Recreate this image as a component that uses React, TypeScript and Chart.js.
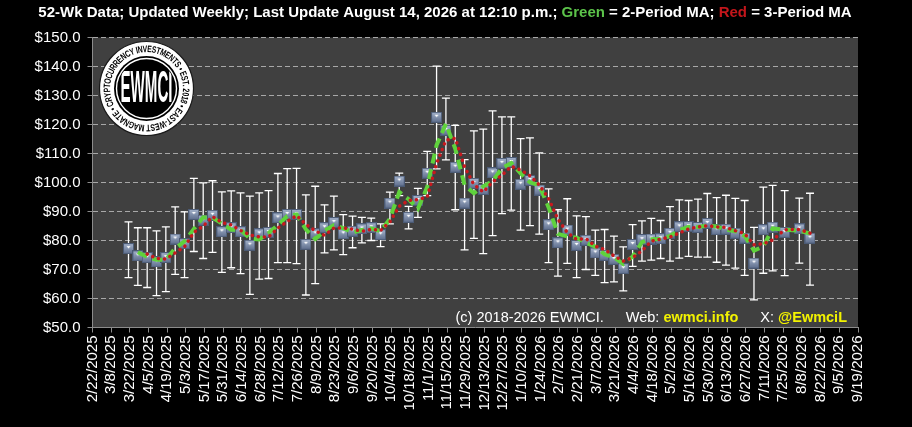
import { useEffect, useRef } from 'react';
import { Chart, registerables } from 'chart.js';

Chart.register(...registerables);

// ---- axis range / ticks ----
const AXIS_START = '2/22/2025';
const AXIS_END = '9/19/2026';
const X_STEP_DAYS = 14;
const Y_MIN = 50;
const Y_MAX = 150;
const Y_STEP = 10;

// ---- weekly observation dates ----
const dates = [
  '3/21/2025', '3/28/2025', '4/4/2025', '4/11/2025', '4/18/2025', '4/25/2025', '5/2/2025', '5/9/2025',
  '5/16/2025', '5/23/2025', '5/30/2025', '6/6/2025', '6/13/2025', '6/20/2025', '6/27/2025', '7/4/2025',
  '7/11/2025', '7/18/2025', '7/25/2025', '8/1/2025', '8/8/2025', '8/15/2025', '8/22/2025', '8/29/2025',
  '9/5/2025', '9/12/2025', '9/19/2025', '9/26/2025', '10/3/2025', '10/10/2025', '10/17/2025', '10/24/2025',
  '10/31/2025', '11/7/2025', '11/14/2025', '11/21/2025', '11/28/2025', '12/5/2025', '12/12/2025', '12/19/2025',
  '12/26/2025', '1/2/2026', '1/9/2026', '1/16/2026', '1/23/2026', '1/30/2026', '2/6/2026', '2/13/2026',
  '2/20/2026', '2/27/2026', '3/6/2026', '3/13/2026', '3/20/2026', '3/27/2026', '4/3/2026', '4/10/2026',
  '4/17/2026', '4/24/2026', '5/1/2026', '5/8/2026', '5/15/2026', '5/22/2026', '5/29/2026', '6/5/2026',
  '6/12/2026', '6/19/2026', '6/26/2026', '7/3/2026', '7/10/2026', '7/17/2026', '7/26/2026', '8/6/2026',
  '8/14/2026',
];

// ---- weekly value (marker) ----
const closeValues = [
  77.2, 74.7, 74.1, 72.6, 74.1, 80.5, 78.9, 89.0,
  87.0, 88.7, 83.0, 84.4, 83.0, 78.4, 82.3, 82.8,
  87.8, 89.0, 89.0, 78.7, 82.3, 84.4, 86.2, 82.3,
  83.2, 84.0, 84.4, 82.0, 92.9, 100.5, 88.0, 93.8,
  103.2, 122.5, 118.0, 105.3, 92.9, 99.7, 97.6, 103.3,
  106.6, 106.9, 99.4, 100.7, 97.4, 85.4, 79.2, 83.6,
  78.3, 80.1, 75.7, 74.9, 73.5, 70.3, 78.6, 80.3,
  80.5, 80.6, 82.5, 84.7, 84.8, 84.5, 85.9, 83.7,
  83.9, 82.5, 80.8, 72.2, 83.7, 84.6, 82.8, 84.0,
  80.8,
];

// ---- weekly high (upper whisker) ----
const highValues = [
  86.4, 84.4, 84.4, 83.3, 84.7, 91.6, 89.9, 101.4,
  99.9, 100.6, 96.8, 97.1, 96.4, 95.3, 96.4, 97.2,
  103.1, 104.8, 104.9, 95.7, 98.7, 92.3, 95.3, 88.9,
  88.4, 88.0, 87.7, 85.7, 96.7, 103.2, 91.8, 98.0,
  110.7, 140.1, 129.1, 119.7, 107.9, 117.8, 118.4, 124.7,
  122.6, 122.6, 115.1, 115.4, 110.2, 97.8, 90.6, 94.4,
  88.5, 88.2, 83.6, 83.8, 81.5, 77.8, 85.5, 86.8,
  87.6, 86.9, 91.7, 94.0, 93.8, 94.3, 96.2, 94.8,
  95.6, 94.5, 93.8, 84.5, 98.4, 99.0, 97.2, 94.6,
  96.3,
];

// ---- weekly low (lower whisker) ----
const lowValues = [
  67.2, 64.5, 63.8, 61.0, 62.4, 68.3, 67.2, 76.2,
  73.8, 75.9, 69.0, 70.6, 68.6, 61.4, 66.7, 66.9,
  72.4, 72.4, 72.0, 61.2, 65.1, 75.7, 76.8, 75.1,
  77.5, 79.2, 80.0, 77.9, 85.7, 95.5, 84.0, 88.0,
  95.5, 104.7, 107.8, 90.6, 76.8, 80.7, 75.5, 81.7,
  89.3, 90.5, 83.6, 85.1, 82.2, 72.4, 67.7, 72.1,
  67.2, 70.0, 68.0, 65.5, 65.7, 62.6, 71.1, 72.9,
  73.2, 73.8, 72.9, 73.9, 74.5, 74.3, 74.3, 72.5,
  71.5, 70.5, 68.0, 59.5, 68.7, 69.5, 67.9, 72.2,
  64.6,
];

const TITLE_PARTS: [string, string][] = [
  ['52-Wk Data; Updated Weekly; Last Update August 14, 2026 at 12:10 p.m.; ', '#ffffff'],
  ['Green', '#5cc34a'],
  [' = 2-Period MA; ', '#ffffff'],
  ['Red', '#c3161b'],
  [' = 3-Period MA', '#ffffff'],
];

const FOOTER_PARTS: [string, string, boolean][] = [
  ['(c) 2018-2026 EWMCI.', '#ffffff', false],
  ['Web: ', '#ffffff', false],
  ['ewmci.info', '#f2f200', true],
  ['X: ', '#ffffff', false],
  ['@EwmciL', '#f2f200', true],
];

const LOGO_RING_TEXT = 'CRYPTOCURRENCY INVESTMENTS \u2022 EST. 2018 \u2022 EAST-WEST MAGNATE \u2022 ';
const LOGO_CENTER_TEXT = 'EWMCI';

const DAY_MS = 86400000;
function parseMDY(s: string) {
  const [m, d, y] = s.split('/').map(Number);
  return Date.UTC(y, m - 1, d);
}
const BASE = parseMDY(AXIS_START);
const toDay = (s: string) => Math.round((parseMDY(s) - BASE) / DAY_MS);
const fmtDay = (day: number) => {
  const dt = new Date(BASE + Math.round(day) * DAY_MS);
  return `${dt.getUTCMonth() + 1}/${dt.getUTCDate()}/${dt.getUTCFullYear()}`;
};

function movingAverage(vals: number[], n: number) {
  return vals.map((_, i) => {
    if (i < n - 1) return null;
    let s = 0;
    for (let k = i - n + 1; k <= i; k++) s += vals[k];
    return s / n;
  });
}

function makeMarker() {
  const c = document.createElement('canvas');
  c.width = 11;
  c.height = 11;
  const g = c.getContext('2d')!;
  const grad = g.createLinearGradient(0, 0, 0, 11);
  grad.addColorStop(0, '#a7b5cd');
  grad.addColorStop(1, '#5b6b8a');
  g.fillStyle = grad;
  g.fillRect(0, 0, 11, 11);
  g.strokeStyle = '#4b5a74';
  g.lineWidth = 1;
  g.strokeRect(0.5, 0.5, 10, 10);
  g.fillStyle = '#ffffff';
  g.beginPath();
  g.moveTo(3.5, 3);
  g.lineTo(7.5, 3);
  g.lineTo(5.5, 5.5);
  g.closePath();
  g.fill();
  return c;
}

const FONT = '"Liberation Sans", Arial, sans-serif';

const plotBgPlugin = {
  id: 'plotBg',
  beforeDraw(chart: any) {
    const { ctx, chartArea: a } = chart;
    ctx.save();
    ctx.fillStyle = '#404040';
    ctx.fillRect(a.left, a.top, a.right - a.left, a.bottom - a.top);
    ctx.restore();
  },
};

const titlePlugin = {
  id: 'multiTitle',
  afterDraw(chart: any) {
    const { ctx } = chart;
    ctx.save();
    ctx.font = `bold 15px ${FONT}`;
    ctx.textBaseline = 'middle';
    const total = TITLE_PARTS.reduce((s, p) => s + ctx.measureText(p[0]).width, 0);
    let x = 445 - total / 2;
    for (const [t, col] of TITLE_PARTS) {
      ctx.fillStyle = col;
      ctx.textAlign = 'left';
      ctx.fillText(t, x, 13);
      x += ctx.measureText(t).width;
    }
    ctx.restore();
  },
};

const footerPlugin = {
  id: 'footer',
  afterDatasetsDraw(chart: any) {
    const { ctx, chartArea: a } = chart;
    ctx.save();
    ctx.textBaseline = 'alphabetic';
    ctx.textAlign = 'left';
    const gaps = [22, 0, 22, 0];
    const fontFor = (b: boolean) => `${b ? 'bold ' : ''}14.5px ${FONT}`;
    const widths = FOOTER_PARTS.map(([t, , b]) => {
      ctx.font = fontFor(b);
      return ctx.measureText(t).width;
    });
    const total = widths.reduce((s, w) => s + w, 0) + gaps.reduce((s, g) => s + g, 0);
    let x = a.right - 11 - total;
    FOOTER_PARTS.forEach(([t, col, b], i) => {
      ctx.font = fontFor(b);
      ctx.fillStyle = col;
      ctx.fillText(t, x, a.bottom - 6);
      x += widths[i] + (gaps[i] || 0);
    });
    ctx.restore();
  },
};

const logoPlugin = {
  id: 'logo',
  beforeDatasetsDraw(chart: any) {
    const { ctx, chartArea: a } = chart;
    const cx = a.left + 54;
    const cy = a.top + 51;
    const ringR = 39;
    ctx.save();
    ctx.beginPath();
    ctx.arc(cx, cy, 47, 0, Math.PI * 2);
    ctx.fillStyle = '#ffffff';
    ctx.fill();
    ctx.lineWidth = 1.2;
    ctx.strokeStyle = '#1a1a1a';
    ctx.stroke();
    // ring text
    ctx.font = `bold 9px ${FONT}`;
    ctx.fillStyle = '#000000';
    ctx.textAlign = 'center';
    ctx.textBaseline = 'middle';
    const chars = LOGO_RING_TEXT.split('');
    const ws = chars.map((ch) => ctx.measureText(ch).width);
    const tot = ws.reduce((s, w) => s + w, 0);
    const squeeze = Math.min(1, (2 * Math.PI * ringR) / tot);
    let ang = Math.PI * 0.85;
    for (let i = 0; i < chars.length; i++) {
      const da = (ws[i] / tot) * Math.PI * 2;
      const th = ang + da / 2;
      ctx.save();
      ctx.translate(cx + Math.cos(th) * ringR, cy + Math.sin(th) * ringR);
      ctx.rotate(th + Math.PI / 2);
      ctx.scale(squeeze, 1.05);
      ctx.fillText(chars[i], 0, 0);
      ctx.restore();
      ang += da;
    }
    // inner black disc
    ctx.beginPath();
    ctx.arc(cx, cy, 32.5, 0, Math.PI * 2);
    ctx.fillStyle = '#000000';
    ctx.fill();
    ctx.beginPath();
    ctx.arc(cx, cy, 30, 0, Math.PI * 2);
    ctx.strokeStyle = '#ffffff';
    ctx.lineWidth = 1.4;
    ctx.stroke();
    ctx.beginPath();
    ctx.arc(cx, cy, 28.5, 0, Math.PI * 2);
    ctx.clip();
    ctx.translate(cx, cy);
    ctx.font = `bold 20px ${FONT}`;
    const tw = ctx.measureText(LOGO_CENTER_TEXT).width;
    ctx.scale(52 / tw, 2.2);
    ctx.fillStyle = '#ffffff';
    ctx.textAlign = 'center';
    ctx.textBaseline = 'middle';
    ctx.fillText(LOGO_CENTER_TEXT, 0, 0.5);
    ctx.restore();
  },
};

const errorBarPlugin = {
  id: 'errorBars',
  beforeDatasetsDraw(chart: any) {
    const { ctx, chartArea: a, scales } = chart;
    const xs = scales.x;
    const ys = scales.y;
    ctx.save();
    ctx.beginPath();
    ctx.rect(a.left, a.top, a.right - a.left, a.bottom - a.top);
    ctx.clip();
    ctx.strokeStyle = '#ffffff';
    ctx.lineWidth = 1.3;
    dates.forEach((d, i) => {
      const x = xs.getPixelForValue(toDay(d));
      const yh = ys.getPixelForValue(highValues[i]);
      const yl = ys.getPixelForValue(lowValues[i]);
      ctx.beginPath();
      ctx.moveTo(x, yh);
      ctx.lineTo(x, yl);
      ctx.moveTo(x - 4, yh);
      ctx.lineTo(x + 4, yh);
      ctx.moveTo(x - 4, yl);
      ctx.lineTo(x + 4, yl);
      ctx.stroke();
    });
    ctx.restore();
  },
};

export default function App() {
  const ref = useRef<HTMLCanvasElement | null>(null);

  useEffect(() => {
    document.body.style.margin = '0';
    document.body.style.background = '#000000';
    const xs = dates.map(toDay);
    const ma2 = movingAverage(closeValues, 2);
    const ma3 = movingAverage(closeValues, 3);
    const marker = makeMarker();
    const chart = new Chart(ref.current!, {
      type: 'line',
      data: {
        datasets: [
          {
            label: 'Weekly',
            data: xs.map((x, i) => ({ x, y: closeValues[i] })),
            showLine: false,
            pointStyle: marker as any,
            pointRadius: 5,
            order: 3,
          },
          {
            label: '2-Period MA',
            data: xs.map((x, i) => ({ x, y: ma2[i] })) as any,
            borderColor: '#5fd23c',
            borderWidth: 4,
            borderDash: [10, 6],
            pointRadius: 0,
            tension: 0,
            order: 2,
          },
          {
            label: '3-Period MA',
            data: xs.map((x, i) => ({ x, y: ma3[i] })) as any,
            borderColor: '#c8191e',
            borderWidth: 3.5,
            borderDash: [0.1, 6],
            borderCapStyle: 'round',
            pointRadius: 0,
            tension: 0,
            order: 1,
          },
        ],
      },
      options: {
        responsive: false,
        animation: false,
        events: [],
        layout: { padding: { top: 37.5, right: 54, left: 0, bottom: 0 } },
        plugins: {
          legend: { display: false },
          title: { display: false },
          tooltip: { enabled: false },
        },
        scales: {
          x: {
            type: 'linear',
            min: 0,
            max: toDay(AXIS_END),
            afterFit: (s: any) => {
              s.height = 99.5;
            },
            ticks: {
              stepSize: X_STEP_DAYS,
              autoSkip: false,
              maxRotation: 90,
              minRotation: 90,
              color: '#ffffff',
              padding: 3,
              font: { family: FONT, size: 15 },
              callback: (v: any) => fmtDay(Number(v)),
            },
            grid: {
              drawOnChartArea: false,
              drawTicks: true,
              tickLength: 5,
              tickColor: '#8c8c8c',
            },
            border: { display: true, color: '#8c8c8c', width: 1 },
          },
          y: {
            type: 'linear',
            min: Y_MIN,
            max: Y_MAX,
            afterFit: (s: any) => {
              s.width = 92.5;
            },
            ticks: {
              stepSize: Y_STEP,
              color: '#ffffff',
              padding: 7,
              font: { family: FONT, size: 15 },
              callback: (v: any) => '$' + Number(v).toFixed(1),
            },
            grid: {
              color: '#a8a8a8',
              lineWidth: 1,
              drawTicks: true,
              tickLength: 5,
              tickColor: '#8c8c8c',
            },
            border: { display: true, color: '#8c8c8c', width: 1, dash: [5, 3] },
          },
        },
      },
      plugins: [plotBgPlugin, errorBarPlugin, logoPlugin, footerPlugin, titlePlugin],
    });
    return () => chart.destroy();
  }, []);

  return (
    <div style={{ position: 'fixed', left: 0, top: 0, width: 912, height: 427, background: '#000000' }}>
      <canvas ref={ref} width={912} height={427} style={{ display: 'block' }} />
    </div>
  );
}
